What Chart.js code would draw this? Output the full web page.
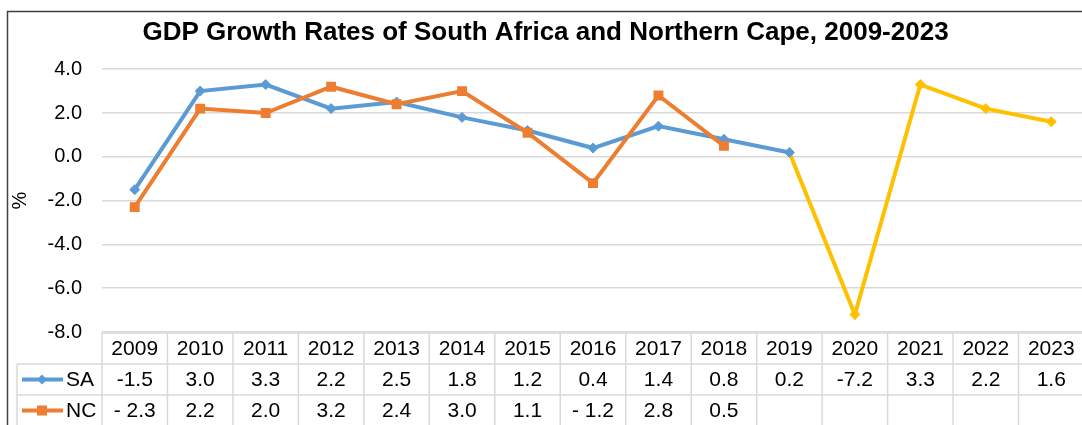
<!DOCTYPE html>
<html>
<head>
<meta charset="utf-8">
<script src="https://cdn.jsdelivr.net/npm/chart.js@4.4.1/dist/chart.umd.min.js"></script>
<style>
  html, body { margin: 0; padding: 0; background: #fff; overflow: hidden; }
  #wrap { position: absolute; left: 0; top: 0; width: 1100px; height: 425px; }
  canvas { display: block; }
</style>
</head>
<body>
<div id="wrap"><canvas id="chart" width="1091" height="425" style="width:1091px;height:425px"></canvas></div>
<script>
// data
const years = ["2009", "2010", "2011", "2012", "2013", "2014", "2015", "2016",
               "2017", "2018", "2019", "2020", "2021", "2022", "2023"];
const saValues = [-1.5, 3.0, 3.3, 2.2, 2.5, 1.8, 1.2, 0.4, 1.4, 0.8, 0.2, -7.2, 3.3, 2.2, 1.6];
const ncValues = [-2.3, 2.2, 2.0, 3.2, 2.4, 3.0, 1.1, -1.2, 2.8, 0.5, null, null, null, null, null];
const yTicks = [-8, -6, -4, -2, 0, 2, 4];
const lastBlueIndex = 10; // SA turns yellow after 2019

const BLUE = "#5b9bd5";
const ORANGE = "#ed7d31";
const YELLOW = "#ffc000";
const GRID = "#d9d9d9";
const FONT = "'Liberation Sans', Arial, sans-serif";

Chart.defaults.font.family = FONT;
Chart.defaults.color = "#000";

const saPointColors = saValues.map((v, i) => i <= lastBlueIndex ? BLUE : YELLOW);

const fmtSA = v => v == null ? "" : v.toFixed(1);
const fmtNC = v => v == null ? "" : (v < 0 ? "- " + Math.abs(v).toFixed(1) : v.toFixed(1));

const tableRows = [
  { label: "SA", values: saValues, color: BLUE, marker: "diamond", fmt: fmtSA },
  { label: "NC", values: ncValues, color: ORANGE, marker: "square", fmt: fmtNC }
];

function drawMarker(ctx, kind, x, y, color) {
  ctx.fillStyle = color;
  ctx.beginPath();
  if (kind === "diamond") {
    ctx.moveTo(x, y - 5); ctx.lineTo(x + 5, y); ctx.lineTo(x, y + 5); ctx.lineTo(x - 5, y);
    ctx.closePath();
  } else {
    ctx.rect(x - 5, y - 5, 10, 10);
  }
  ctx.fill();
}

// outer frame (only left and top edges are inside the picture)
const frame = {
  id: "frame",
  beforeDraw(chart) {
    const ctx = chart.ctx;
    ctx.save();
    ctx.strokeStyle = "#404040";
    ctx.lineWidth = 1.5;
    ctx.beginPath();
    ctx.moveTo(7.5, chart.height);
    ctx.lineTo(7.5, 11.5);
    ctx.lineTo(chart.width, 11.5);
    ctx.stroke();
    ctx.restore();
  }
};

// data table under the plot, columns follow the x scale
const dataTable = {
  id: "dataTable",
  afterDraw(chart) {
    const { ctx, chartArea } = chart;
    const x = chart.scales.x;
    const colW = x.getPixelForValue(1) - x.getPixelForValue(0);
    const left = chartArea.left;
    const right = left + colW * years.length;
    const top = chartArea.bottom + 1;
    const rowH = 31;
    const bottom = chart.height;
    const keyLeft = 17;

    ctx.save();
    ctx.strokeStyle = GRID;
    ctx.lineWidth = 1.5;
    ctx.beginPath();
    ctx.moveTo(left, top); ctx.lineTo(right, top);
    for (let r = 1; r <= tableRows.length; r++) {
      ctx.moveTo(keyLeft, top + r * rowH); ctx.lineTo(right, top + r * rowH);
    }
    for (let i = 0; i <= years.length; i++) {
      const cx = left + i * colW;
      ctx.moveTo(cx, top); ctx.lineTo(cx, bottom);
    }
    ctx.moveTo(keyLeft, top + rowH); ctx.lineTo(keyLeft, bottom);
    ctx.stroke();

    ctx.font = "21px " + FONT;
    ctx.fillStyle = "#000";
    ctx.textAlign = "center";
    ctx.textBaseline = "middle";
    years.forEach((yr, i) => {
      ctx.fillText(yr, x.getPixelForValue(i), top + rowH / 2 + 1);
    });

    tableRows.forEach((row, r) => {
      const cy = top + rowH * (r + 1) + rowH / 2;
      // legend key
      ctx.strokeStyle = row.color;
      ctx.lineWidth = 4;
      ctx.beginPath();
      ctx.moveTo(22, cy); ctx.lineTo(63, cy);
      ctx.stroke();
      drawMarker(ctx, row.marker, 42, cy, row.color);

      ctx.fillStyle = "#000";
      ctx.textAlign = "left";
      ctx.fillText(row.label, 66, cy + 1);
      ctx.textAlign = "center";
      row.values.forEach((v, i) => {
        ctx.fillText(row.fmt(v), x.getPixelForValue(i), cy + 1);
      });
    });
    ctx.restore();
  }
};

new Chart(document.getElementById("chart"), {
  type: "line",
  data: {
    labels: years,
    datasets: [
      {
        label: "SA",
        data: saValues,
        order: 1,
        borderWidth: 4,
        borderColor: BLUE,
        segment: {
          borderColor: c => c.p0DataIndex >= lastBlueIndex ? YELLOW : BLUE
        },
        pointStyle: "rectRot",
        pointRadius: 5,
        pointBorderWidth: 1,
        pointBackgroundColor: saPointColors,
        pointBorderColor: saPointColors,
        tension: 0
      },
      {
        label: "NC",
        data: ncValues,
        order: 0,
        borderWidth: 4,
        borderColor: ORANGE,
        pointStyle: "rect",
        pointRadius: 7,
        pointBorderWidth: 0,
        pointBackgroundColor: ORANGE,
        pointBorderColor: ORANGE,
        tension: 0
      }
    ]
  },
  options: {
    responsive: false,
    devicePixelRatio: 1,
    animation: false,
    layout: { padding: { left: 0, right: 0, top: 0, bottom: 93 } },
    plugins: {
      legend: { display: false },
      tooltip: { enabled: false },
      title: {
        display: true,
        text: "GDP Growth Rates of South Africa and Northern Cape, 2009-2023",
        font: { size: 26, weight: "bold" },
        color: "#000",
        padding: { top: 17, bottom: 21 }
      }
    },
    scales: {
      x: {
        display: false,
        offset: true
      },
      y: {
        min: yTicks[0],
        max: yTicks[yTicks.length - 1],
        afterBuildTicks: s => { s.ticks = yTicks.map(v => ({ value: v })); },
        afterFit: s => { s.width = 102; },
        ticks: {
          font: { size: 20 },
          color: "#000",
          padding: 20,
          callback: v => v.toFixed(1)
        },
        grid: { color: GRID, lineWidth: 1.5, drawTicks: false },
        border: { display: false },
        title: {
          display: true,
          text: "%",
          font: { size: 20 },
          color: "#000",
          padding: { top: 8, bottom: 0 }
        }
      }
    }
  },
  plugins: [frame, dataTable]
});
</script>
</body>
</html>
